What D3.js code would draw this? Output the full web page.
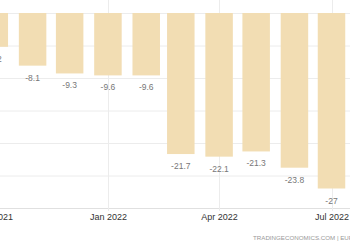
<!DOCTYPE html>
<html>
<head>
<meta charset="utf-8">
<script src="https://cdn.jsdelivr.net/npm/d3@7"></script>
<style>
  body { margin: 0; background: #fff; }
  svg { display: block; }
</style>
</head>
<body>
<script>
var months = ['2021-10-01', '2021-11-01', '2021-12-01', '2022-01-01', '2022-02-01',
              '2022-03-01', '2022-04-01', '2022-05-01', '2022-06-01', '2022-07-01'];
var values = [-5.2, -8.1, -9.3, -9.6, -9.6, -21.7, -22.1, -21.3, -23.8, -27];
var tickDates = ['2021-10-01', '2022-01-01', '2022-04-01', '2022-07-01'];
var yTicks = [0, -5, -10, -15, -20, -25, -30];

var width = 350;
var height = 250;
var barWidth = 27.5;

var parse = d3.timeParse('%Y-%m-%d');

var svg = d3.select('body')
  .append('svg')
    .attr('width', width)
    .attr('height', height);

// time scale, so spacing follows days in month
var x = d3.scaleTime()
  .domain([parse('2021-10-01'), parse('2022-07-01')])
  .range([-5.7, 331.5]);

var y = d3.scaleLinear()
  .domain([0, -30])
  .range([13, 208]);

// horizontal grid
svg.append('g')
  .selectAll('line')
  .data(yTicks)
  .enter()
  .append('line')
    .attr('x1', 0)
    .attr('x2', width)
    .attr('y1', function(d){ return y(d) + 0.5; })
    .attr('y2', function(d){ return y(d) + 0.5; })
    .attr('stroke', function(d){ return d === -30 ? '#e0e0e0' : '#ececec'; })
    .attr('stroke-width', 1);

// vertical grid at tick dates
svg.append('g')
  .selectAll('line')
  .data(tickDates)
  .enter()
  .append('line')
    .attr('x1', function(d){ return Math.round(x(parse(d))) + 0.5; })
    .attr('x2', function(d){ return Math.round(x(parse(d))) + 0.5; })
    .attr('y1', 0)
    .attr('y2', y(-30) + 3)
    .attr('stroke', '#ececec');

// bars
svg.append('g')
  .selectAll('rect')
  .data(values)
  .enter()
  .append('rect')
    .attr('x', function(d, i){ return x(parse(months[i])) - barWidth / 2; })
    .attr('width', barWidth)
    .attr('y', y(0))
    .attr('height', function(d){ return y(d) - y(0); })
    .attr('fill', '#f2ddb3');

// value labels
svg.append('g')
  .selectAll('text')
  .data(values)
  .enter()
  .append('text')
    .attr('x', function(d, i){ return x(parse(months[i])); })
    .attr('y', function(d){ return y(d) + 15; })
    .attr('text-anchor', 'middle')
    .attr('font-family', 'Liberation Sans, Arial, sans-serif')
    .attr('font-size', '8.5px')
    .attr('fill', '#777')
    .text(function(d){ return d; });

// x axis labels
var axis = d3.axisBottom(x)
  .tickValues(tickDates.map(parse))
  .tickFormat(d3.timeFormat('%b %Y'))
  .tickSize(0)
  .tickPadding(6);

var gx = svg.append('g')
  .attr('transform', 'translate(0,' + y(-30) + ')')
  .call(axis);

gx.select('.domain').remove();
gx.selectAll('text')
  .attr('font-family', 'Liberation Sans, Arial, sans-serif')
  .attr('font-size', '9px')
  .attr('fill', '#333');

// source footer
svg.append('text')
  .attr('x', 253)
  .attr('y', 240)
  .attr('font-family', 'Liberation Sans, Arial, sans-serif')
  .attr('font-size', '6.2px')
  .attr('fill', '#999')
  .text('TRADINGECONOMICS.COM  |  EUROPEAN COMMISSION');
</script>
</body>
</html>
